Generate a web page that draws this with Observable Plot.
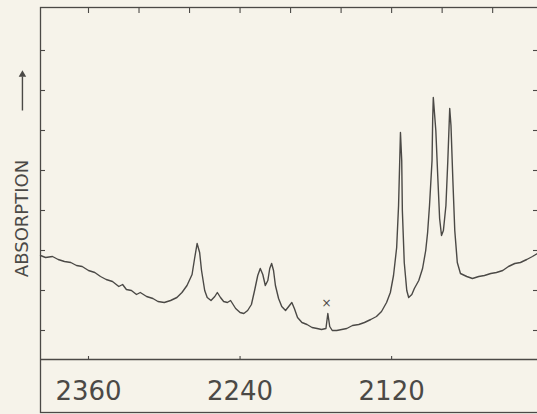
<!DOCTYPE html>
<html><head><meta charset="utf-8">
<script src="https://cdn.jsdelivr.net/npm/d3@7"></script>
<script src="https://cdn.jsdelivr.net/npm/@observablehq/plot@0.6"></script>
<style>
html,body{margin:0;padding:0;background:#f6f2e8;}
#chart svg{display:block;}
</style></head><body><div id="chart"></div>
<script>
// IR absorption spectrum (wavenumber in cm^-1, absorption in arbitrary units)
const wavenumber = [2398,2394,2388.5,2384,2379,2374,2369.5,2365,2360,2355,2350.5,2346,2341,2336,2333,2330,2326,2322,2319,2314,2309,2305,2300,2295,2290,2286,2282,2278,2276,2274,2272,2270.5,2268,2266,2263,2260,2258,2255.5,2253,2250,2247.5,2246,2243.5,2240,2237,2234,2231,2228.5,2226,2224,2222,2220,2218,2216.5,2215,2213.5,2212,2209.5,2207,2204,2201.5,2199,2197,2194.5,2191,2187,2183,2179,2175.5,2172,2170.5,2169,2167,2163.5,2159.5,2155.5,2151,2146,2141.5,2136.5,2132,2128,2124,2121,2118.5,2116,2114.5,2113,2112,2111.5,2110,2108,2106.5,2104,2102,2098.5,2095.5,2093,2091.5,2090,2088,2087.5,2087,2085,2083.5,2082,2080.5,2079,2077,2075.5,2074,2073,2071.5,2070,2068,2065.5,2060.5,2056,2051,2046.5,2041.5,2037,2032,2027.5,2022.5,2018,2013,2008.5,2004.5];
const absorption = [2.875,2.825,2.85,2.775,2.725,2.70,2.625,2.60,2.50,2.45,2.35,2.275,2.225,2.10,2.15,2.025,2.00,1.90,1.95,1.85,1.80,1.725,1.70,1.75,1.825,1.95,2.125,2.40,2.80,3.175,2.95,2.50,2.00,1.825,1.75,1.85,1.95,1.825,1.725,1.70,1.75,1.675,1.55,1.45,1.425,1.50,1.65,2.00,2.375,2.55,2.40,2.125,2.25,2.55,2.675,2.50,2.125,1.80,1.60,1.50,1.60,1.70,1.55,1.325,1.20,1.15,1.075,1.05,1.025,1.05,1.425,1.10,1.00,1.00,1.025,1.05,1.125,1.15,1.20,1.275,1.35,1.475,1.70,1.95,2.375,3.075,4.125,5.95,5.25,4.00,2.70,2.00,1.825,1.90,2.05,2.25,2.55,3.00,3.45,4.125,5.25,6.25,6.825,6.00,4.875,3.80,3.375,3.50,4.125,5.25,6.55,6.125,4.75,3.50,2.70,2.425,2.35,2.30,2.35,2.375,2.425,2.45,2.50,2.60,2.675,2.70,2.775,2.85,2.925];

const xTickLabels = [2360, 2240, 2120];
const xTopTicks = [2360, 2320, 2280, 2240, 2200, 2160, 2120, 2080, 2040];
const yTicks = [1, 2, 3, 4, 5, 6, 7, 8];
const yLabel = [{x: 2412.5, y: 3.8, text: "ABSORPTION"}];
const artifactMark = [{wn: 2171.5, a: 1.675, label: "×"}];
const xDomain = [2398, 2004.5];
const yDomain = [0.275, 9.075];
// up-arrow beside the axis title (data units, outside the frame)
const arrowShaft = [{x: 2412.3, y1: 6.5, y2: 7.35}];
const arrowHead = [{x: 2412.3, y: 7.4}];

const n = Math.min(wavenumber.length, absorption.length);
const spectrum = d3.range(n).map(i => ({w: wavenumber[i], a: absorption[i]}));

const ink = "#4b4946";
const paper = "#f6f3ea";

const chart = Plot.plot({
  width: 537,
  height: 414,
  marginLeft: 40,
  marginRight: 0,
  marginTop: 7,
  marginBottom: 55,
  style: {background: paper, fontFamily: "DejaVu Sans", color: ink, overflow: "visible"},
  x: {domain: xDomain},
  y: {domain: yDomain},
  marks: [
    Plot.frame({stroke: ink, strokeWidth: 1.3, insetBottom: -53, insetRight: -2}),
    Plot.ruleY([yDomain[0]], {stroke: ink, strokeWidth: 1.3}),
    Plot.axisX({anchor: "top", ticks: xTopTicks, tickSize: 5, dy: 5, tickFormat: () => "", label: null, stroke: ink, strokeWidth: 1.1}),
    Plot.axisX({anchor: "bottom", ticks: xTickLabels, tickSize: 3, dy: -3, tickFormat: () => "", label: null, stroke: ink, strokeWidth: 1.1}),
    Plot.axisX({anchor: "bottom", ticks: xTickLabels, tickSize: 0, tickPadding: 22, fontSize: 26, label: null, tickFormat: d => String(d), fill: ink, ariaLabel: "xlabels"}),
    Plot.axisY({anchor: "left", ticks: yTicks, tickSize: 5, dx: 5, tickFormat: () => "", label: null, stroke: ink, strokeWidth: 1.1}),
    Plot.axisY({anchor: "right", ticks: yTicks, tickSize: 5, dx: -5, tickFormat: () => "", label: null, stroke: ink, strokeWidth: 1.1}),
    Plot.line(spectrum, {x: "w", y: "a", stroke: ink, strokeWidth: 1.4, strokeLinejoin: "round"}),
    Plot.text(artifactMark, {x: "wn", y: "a", text: "label", fontSize: 12, fill: ink}),
    Plot.text(yLabel, {x: "x", y: "y", text: "text", rotate: -90, fontSize: 18, fill: ink, ariaLabel: "ylabel"}),
    Plot.link(arrowShaft, {x1: "x", x2: "x", y1: "y1", y2: "y2", stroke: ink, strokeWidth: 1.4}),
    Plot.dot(arrowHead, {x: "x", y: "y", symbol: "triangle", r: 2.8, fill: ink, stroke: "none"})
  ]
});

const svg = d3.select(chart);
svg.selectAll('[aria-label="xlabels"] text, [aria-label="x-axis tick label"] text')
  .filter(function () { return this.textContent.trim().length > 0; })
  .attr("textLength", 45)
  .attr("lengthAdjust", "spacingAndGlyphs");

document.getElementById("chart").appendChild(chart);
</script>
</body></html>
